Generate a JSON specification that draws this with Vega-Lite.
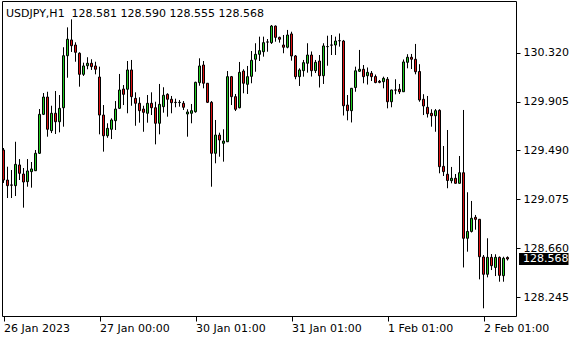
{
  "$schema": "https://vega.github.io/schema/vega-lite/v6.json",
  "width": 514,
  "height": 315,
  "autosize": "none",
  "padding": {"left": 2, "top": 1, "right": 64, "bottom": 24},
  "background": "white",
  "config": {
    "view": {"stroke": "black", "strokeWidth": 1},
    "axis": {"grid": false, "domain": false, "title": null, "tickColor": "black", "labelColor": "black", "labelFont": "DejaVu Sans", "labelFontSize": 11}
  },
  "title": {
    "text": "USDJPY,H1\u00a0\u00a0128.581 128.590 128.555 128.568",
    "anchor": "start",
    "frame": "group",
    "orient": "top",
    "offset": -16,
    "baseline": "alphabetic",
    "dx": 4,
    "dy": 11,
    "font": "DejaVu Sans",
    "fontSize": 11,
    "fontWeight": "normal",
    "color": "black"
  },
  "datasets": {
    "bars": [
      {"i":0,"o":129.494,"h":129.511,"l":129.214,"c":129.239},
      {"i":1,"o":129.239,"h":129.352,"l":129.086,"c":129.191},
      {"i":2,"o":129.197,"h":129.324,"l":129.086,"c":129.195},
      {"i":3,"o":129.191,"h":129.564,"l":129.103,"c":129.372},
      {"i":4,"o":129.367,"h":129.417,"l":129.239,"c":129.296},
      {"i":5,"o":129.290,"h":129.341,"l":129.004,"c":129.222},
      {"i":6,"o":129.225,"h":129.417,"l":129.182,"c":129.316},
      {"i":7,"o":129.310,"h":129.392,"l":129.174,"c":129.333},
      {"i":8,"o":129.318,"h":129.494,"l":129.316,"c":129.466},
      {"i":9,"o":129.466,"h":129.842,"l":129.460,"c":129.797},
      {"i":10,"o":129.797,"h":129.978,"l":129.791,"c":129.944},
      {"i":11,"o":129.944,"h":129.989,"l":129.607,"c":129.670},
      {"i":12,"o":129.658,"h":129.870,"l":129.638,"c":129.806},
      {"i":13,"o":129.806,"h":129.995,"l":129.630,"c":129.734},
      {"i":14,"o":129.734,"h":129.961,"l":129.644,"c":129.848},
      {"i":15,"o":129.853,"h":130.367,"l":129.692,"c":130.295},
      {"i":16,"o":130.295,"h":130.536,"l":130.108,"c":130.435},
      {"i":17,"o":130.429,"h":130.604,"l":130.327,"c":130.380},
      {"i":18,"o":130.386,"h":130.409,"l":130.244,"c":130.324},
      {"i":19,"o":130.316,"h":130.324,"l":130.032,"c":130.137},
      {"i":20,"o":130.137,"h":130.236,"l":130.123,"c":130.208},
      {"i":21,"o":130.210,"h":130.282,"l":130.180,"c":130.231},
      {"i":22,"o":130.231,"h":130.265,"l":130.174,"c":130.202},
      {"i":23,"o":130.208,"h":130.244,"l":130.137,"c":130.180},
      {"i":24,"o":130.114,"h":130.202,"l":129.627,"c":129.791},
      {"i":25,"o":129.791,"h":129.876,"l":129.480,"c":129.615},
      {"i":26,"o":129.615,"h":129.721,"l":129.598,"c":129.678},
      {"i":27,"o":129.670,"h":129.763,"l":129.587,"c":129.749},
      {"i":28,"o":129.743,"h":129.910,"l":129.664,"c":129.842},
      {"i":29,"o":129.848,"h":130.140,"l":129.842,"c":130.004},
      {"i":30,"o":130.012,"h":130.046,"l":129.876,"c":129.967},
      {"i":31,"o":130.010,"h":130.250,"l":129.806,"c":130.174},
      {"i":32,"o":130.174,"h":130.259,"l":129.870,"c":129.947},
      {"i":33,"o":129.933,"h":129.984,"l":129.700,"c":129.891},
      {"i":34,"o":129.891,"h":129.942,"l":129.726,"c":129.828},
      {"i":35,"o":129.842,"h":129.870,"l":129.649,"c":129.814},
      {"i":36,"o":129.806,"h":129.961,"l":129.726,"c":129.891},
      {"i":37,"o":129.891,"h":129.984,"l":129.791,"c":129.853},
      {"i":38,"o":129.853,"h":129.904,"l":129.542,"c":129.721},
      {"i":39,"o":129.721,"h":130.055,"l":129.627,"c":129.882},
      {"i":40,"o":129.862,"h":130.027,"l":129.811,"c":129.959},
      {"i":41,"o":129.967,"h":129.976,"l":129.777,"c":129.925},
      {"i":42,"o":129.925,"h":129.953,"l":129.806,"c":129.896},
      {"i":43,"o":129.899,"h":129.930,"l":129.857,"c":129.897},
      {"i":44,"o":129.897,"h":129.919,"l":129.862,"c":129.899},
      {"i":45,"o":129.891,"h":129.910,"l":129.834,"c":129.857},
      {"i":46,"o":129.800,"h":129.840,"l":129.607,"c":129.817},
      {"i":47,"o":129.806,"h":129.885,"l":129.721,"c":129.828},
      {"i":48,"o":129.819,"h":130.074,"l":129.811,"c":130.069},
      {"i":49,"o":130.066,"h":130.273,"l":130.040,"c":130.208},
      {"i":50,"o":130.216,"h":130.250,"l":130.018,"c":130.061},
      {"i":51,"o":130.061,"h":130.063,"l":129.893,"c":129.899},
      {"i":52,"o":129.899,"h":129.910,"l":129.182,"c":129.466},
      {"i":53,"o":129.466,"h":129.749,"l":129.381,"c":129.621},
      {"i":54,"o":129.621,"h":129.641,"l":129.437,"c":129.579},
      {"i":55,"o":129.551,"h":129.670,"l":129.395,"c":129.570},
      {"i":56,"o":129.564,"h":130.165,"l":129.562,"c":130.117},
      {"i":57,"o":130.117,"h":130.123,"l":129.876,"c":129.947},
      {"i":58,"o":129.947,"h":129.970,"l":129.825,"c":129.840},
      {"i":59,"o":129.853,"h":130.242,"l":129.848,"c":130.154},
      {"i":60,"o":130.165,"h":130.180,"l":129.976,"c":130.061},
      {"i":61,"o":130.052,"h":130.208,"l":129.970,"c":130.117},
      {"i":62,"o":130.120,"h":130.335,"l":130.061,"c":130.256},
      {"i":63,"o":130.265,"h":130.401,"l":130.159,"c":130.307},
      {"i":64,"o":130.307,"h":130.457,"l":130.250,"c":130.338},
      {"i":65,"o":130.329,"h":130.457,"l":130.287,"c":130.406},
      {"i":66,"o":130.412,"h":130.437,"l":130.329,"c":130.411},
      {"i":67,"o":130.406,"h":130.556,"l":130.395,"c":130.547},
      {"i":68,"o":130.547,"h":130.552,"l":130.414,"c":130.451},
      {"i":69,"o":130.451,"h":130.457,"l":130.406,"c":130.435},
      {"i":70,"o":130.386,"h":130.471,"l":130.316,"c":130.367},
      {"i":71,"o":130.367,"h":130.514,"l":130.358,"c":130.471},
      {"i":72,"o":130.480,"h":130.499,"l":130.253,"c":130.293},
      {"i":73,"o":130.293,"h":130.301,"l":130.095,"c":130.117},
      {"i":74,"o":130.117,"h":130.188,"l":130.038,"c":130.174},
      {"i":75,"o":130.168,"h":130.259,"l":130.117,"c":130.236},
      {"i":76,"o":130.231,"h":130.401,"l":130.151,"c":130.301},
      {"i":77,"o":130.301,"h":130.331,"l":130.118,"c":130.168},
      {"i":78,"o":130.168,"h":130.259,"l":130.148,"c":130.239},
      {"i":79,"o":130.250,"h":130.301,"l":130.025,"c":130.125},
      {"i":80,"o":130.125,"h":130.401,"l":130.055,"c":130.378},
      {"i":81,"o":130.372,"h":130.465,"l":130.210,"c":130.373},
      {"i":82,"o":130.386,"h":130.471,"l":130.301,"c":130.385},
      {"i":83,"o":130.386,"h":130.457,"l":130.301,"c":130.420},
      {"i":84,"o":130.423,"h":130.484,"l":130.372,"c":130.422},
      {"i":85,"o":130.420,"h":130.429,"l":129.787,"c":129.870},
      {"i":86,"o":129.876,"h":129.961,"l":129.746,"c":129.828},
      {"i":87,"o":129.828,"h":130.021,"l":129.728,"c":130.018},
      {"i":88,"o":130.025,"h":130.202,"l":129.989,"c":130.167},
      {"i":89,"o":130.163,"h":130.344,"l":130.157,"c":130.180},
      {"i":90,"o":130.180,"h":130.216,"l":130.061,"c":130.117},
      {"i":91,"o":130.125,"h":130.195,"l":130.050,"c":130.154},
      {"i":92,"o":130.146,"h":130.165,"l":130.080,"c":130.117},
      {"i":93,"o":130.118,"h":130.135,"l":130.061,"c":130.067},
      {"i":94,"o":130.078,"h":130.089,"l":130.061,"c":130.069},
      {"i":95,"o":130.074,"h":130.117,"l":130.018,"c":130.103},
      {"i":96,"o":130.095,"h":130.114,"l":129.848,"c":129.904},
      {"i":97,"o":129.904,"h":130.006,"l":129.857,"c":130.004},
      {"i":98,"o":130.004,"h":130.095,"l":129.967,"c":130.003},
      {"i":99,"o":130.010,"h":130.055,"l":129.970,"c":129.989},
      {"i":100,"o":129.989,"h":130.263,"l":129.987,"c":130.242},
      {"i":101,"o":130.239,"h":130.308,"l":130.188,"c":130.282},
      {"i":102,"o":130.282,"h":130.310,"l":130.182,"c":130.265},
      {"i":103,"o":130.265,"h":130.395,"l":130.137,"c":130.159},
      {"i":104,"o":130.161,"h":130.223,"l":129.904,"c":129.919},
      {"i":105,"o":129.925,"h":129.968,"l":129.791,"c":129.868},
      {"i":106,"o":129.857,"h":129.953,"l":129.770,"c":129.802},
      {"i":107,"o":129.806,"h":129.840,"l":129.692,"c":129.785},
      {"i":108,"o":129.785,"h":129.842,"l":129.649,"c":129.828},
      {"i":109,"o":129.831,"h":129.840,"l":129.296,"c":129.352},
      {"i":110,"o":129.355,"h":129.528,"l":129.273,"c":129.310},
      {"i":111,"o":129.288,"h":129.664,"l":129.169,"c":129.235},
      {"i":112,"o":129.233,"h":129.350,"l":129.211,"c":129.254},
      {"i":113,"o":129.254,"h":129.290,"l":129.209,"c":129.211},
      {"i":114,"o":129.211,"h":129.443,"l":129.209,"c":129.301},
      {"i":115,"o":129.301,"h":129.834,"l":128.496,"c":128.744},
      {"i":116,"o":128.744,"h":129.135,"l":128.630,"c":128.802},
      {"i":117,"o":128.802,"h":129.061,"l":128.793,"c":128.914},
      {"i":118,"o":128.922,"h":128.942,"l":128.817,"c":128.905},
      {"i":119,"o":128.905,"h":128.908,"l":128.395,"c":128.587},
      {"i":120,"o":128.585,"h":128.602,"l":128.149,"c":128.438},
      {"i":121,"o":128.438,"h":128.744,"l":128.412,"c":128.582},
      {"i":122,"o":128.582,"h":128.610,"l":128.474,"c":128.511},
      {"i":123,"o":128.496,"h":128.608,"l":128.423,"c":128.582},
      {"i":124,"o":128.582,"h":128.589,"l":128.375,"c":128.429},
      {"i":125,"o":128.426,"h":128.587,"l":128.375,"c":128.574},
      {"i":126,"o":128.581,"h":128.590,"l":128.555,"c":128.568}
    ],
    "last": [{"price": 128.568, "label": "128.568"}]
  },
  "layer": [
    {
      "data": {"name": "bars"},
      "mark": {"type": "rule", "color": "black", "strokeWidth": 1},
      "encoding": {
        "x": {
          "field": "i", "type": "quantitative",
          "scale": {"domain": [-0.375, 128.125], "nice": false, "zero": false, "padding": 0},
          "axis": {
            "values": [0, 24, 48, 72, 96, 120],
            "labelExpr": "['26 Jan 2023','27 Jan 00:00','30 Jan 01:00','31 Jan 01:00','1 Feb 01:00','2 Feb 01:00'][round(datum.value/24)]",
            "labelAlign": "left",
            "labelBaseline": "top",
            "tickSize": 5,
            "labelPadding": 1,
            "labelFlush": false,
            "labelOverlap": false,
            "labelBound": false
          }
        },
        "y": {
          "field": "l", "type": "quantitative",
          "scale": {"domain": [128.0836, 130.7599], "nice": false, "zero": false, "padding": 0},
          "axis": {
            "orient": "right",
            "values": [128.245, 128.66, 129.075, 129.49, 129.905, 130.32],
            "format": ".3f",
            "tickSize": 4,
            "labelPadding": 3,
            "labelOverlap": false,
            "labelBound": false
          }
        },
        "y2": {"field": "h"}
      }
    },
    {
      "data": {"name": "bars"},
      "mark": {"type": "bar", "size": 2, "stroke": "black", "strokeWidth": 1},
      "encoding": {
        "x": {"field": "i", "type": "quantitative"},
        "y": {"field": "o", "type": "quantitative"},
        "y2": {"field": "c"},
        "fill": {"condition": {"test": "datum.c > datum.o", "value": "#22cc22"}, "value": "#dd1111"}
      }
    },
    {
      "data": {"name": "last"},
      "mark": {"type": "bar", "orient": "horizontal", "size": 12, "color": "black", "clip": false},
      "encoding": {
        "x": {"datum": 128.875, "type": "quantitative"},
        "x2": {"datum": 141.25},
        "y": {"field": "price", "type": "quantitative"}
      }
    },
    {
      "data": {"name": "last"},
      "mark": {"type": "text", "align": "left", "baseline": "middle", "color": "white", "font": "DejaVu Sans", "fontSize": 11, "clip": false},
      "encoding": {
        "x": {"datum": 129.875, "type": "quantitative"},
        "y": {"field": "price", "type": "quantitative"},
        "text": {"field": "label"}
      }
    }
  ]
}
